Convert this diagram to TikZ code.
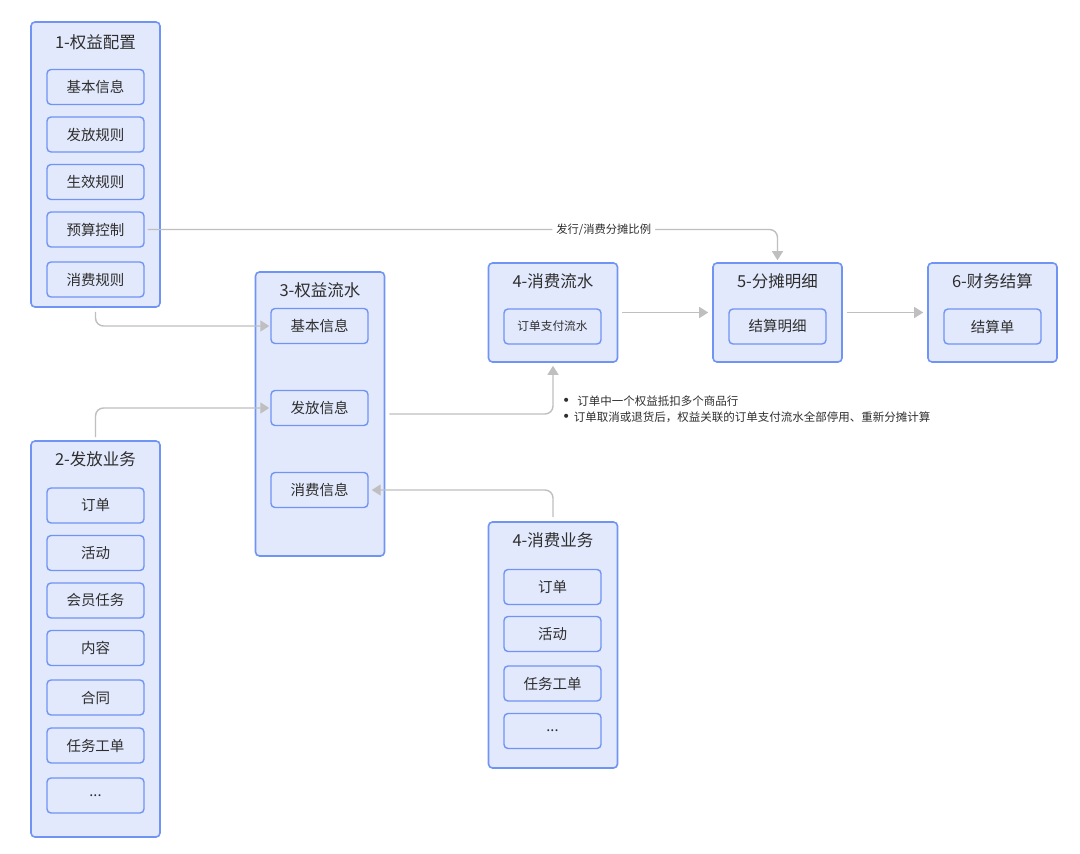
\documentclass[tikz,border=0pt]{standalone}
\usepackage{fontspec}
\setmainfont{Noto Sans CJK SC}
\newfontfamily\dotfont{DejaVu Sans}
\usetikzlibrary{arrows.meta}
\definecolor{boxblue}{HTML}{7094F4}
\definecolor{boxfill}{HTML}{E3E9FC}
\definecolor{linegray}{HTML}{BFBFBF}
\definecolor{txtgray}{HTML}{2E2E2E}

\begin{document}
\begin{tikzpicture}[
    x=1pt, y=-1pt,
    group/.style={rectangle, draw=boxblue, fill=boxfill, line width=1.6pt, rounded corners=4pt, minimum width=129pt},
    item/.style={rectangle, draw=boxblue, fill=boxfill, line width=1.4pt, rounded corners=4pt, minimum width=97pt, minimum height=35pt, font=\fontsize{14.5}{16}\selectfont, text=txtgray},
    grouptitle/.style={font=\fontsize{16.5}{18}\selectfont, text=txtgray},
    note/.style={font=\fontsize{11.5}{13}\selectfont, text=txtgray, anchor=west, inner sep=0pt},
    arrow/.style={draw=linegray, line width=1.4pt, rounded corners=8pt, -{Triangle[length=9pt, width=11pt]}}
]
    \useasboundingbox[fill=white] (0, 0) rectangle (1080, 854);

    % Groups
    \node[group, minimum height=285pt] (cfg) at (95.5, 164.5) {};
    \node[group, minimum height=396pt] (iss) at (95.5, 639) {};
    \node[group, minimum height=284pt] (flow) at (320, 414) {};
    \node[group, minimum height=99pt] (cons) at (553, 312.5) {};
    \node[group, minimum height=99pt] (alloc) at (777.5, 312.5) {};
    \node[group, minimum height=99pt] (fin) at (992.5, 312.5) {};
    \node[group, minimum height=246pt] (use) at (553, 645) {};

    % Titles
    \node[grouptitle] (tcfg) at (95.5, 42) {1-权益配置};
    \node[grouptitle] (tiss) at (95.5, 459) {2-发放业务};
    \node[grouptitle] (tflow) at (320, 290) {3-权益流水};
    \node[grouptitle] (tcons) at (553, 281) {4-消费流水};
    \node[grouptitle] (talloc) at (777.5, 281) {5-分摊明细};
    \node[grouptitle] (tfin) at (992.5, 281) {6-财务结算};
    \node[grouptitle] (tuse) at (553, 540) {4-消费业务};

    % 1-权益配置
    \node[item] (cfg1) at (95.5, 87) {基本信息};
    \node[item] (cfg2) at (95.5, 134.5) {发放规则};
    \node[item] (cfg3) at (95.5, 182) {生效规则};
    \node[item] (cfg4) at (95.5, 229.5) {预算控制};
    \node[item] (cfg5) at (95.5, 279.5) {消费规则};

    % 2-发放业务
    \node[item] (iss1) at (95.5, 505.5) {订单};
    \node[item] (iss2) at (95.5, 553) {活动};
    \node[item] (iss3) at (95.5, 600.5) {会员任务};
    \node[item] (iss4) at (95.5, 648) {内容};
    \node[item] (iss5) at (95.5, 697.5) {合同};
    \node[item] (iss6) at (95.5, 745.5) {任务工单};
    \node[item] (iss7) at (95.5, 795.5) {...};

    % 3-权益流水
    \node[item] (flow1) at (319.5, 326) {基本信息};
    \node[item] (flow2) at (319.5, 408) {发放信息};
    \node[item] (flow3) at (319.5, 490) {消费信息};

    % 4/5/6
    \node[item, font=\fontsize{11.7}{13}\selectfont] (cons1) at (552.5, 326.5) {订单支付流水};
    \node[item] (alloc1) at (777.5, 326.5) {结算明细};
    \node[item] (fin1) at (992.5, 326.5) {结算单};

    % 4-消费业务
    \node[item] (use1) at (552.5, 587) {订单};
    \node[item] (use2) at (552.5, 634) {活动};
    \node[item] (use3) at (552.5, 683.5) {任务工单};
    \node[item] (use4) at (552.5, 731) {...};

    % Connectors
    \draw[arrow] ([xshift=3pt]cfg4.east) -| ([yshift=2pt]alloc.north)
        node[pos=0.362, fill=white, inner sep=4pt, font=\fontsize{11.3}{13}\selectfont, text=txtgray] (ratio) {发行/消费分摊比例};
    \draw[arrow] ([yshift=-4pt]cfg.south) |- ([xshift=-1pt]flow1.west);
    \draw[arrow] ([yshift=3pt]iss.north) |- ([xshift=-1pt]flow2.west);
    \draw[arrow] ([xshift=4pt]flow.east) -| ([yshift=-3pt]cons.south);
    \draw[arrow] ([xshift=4pt]cons.east) -- ([xshift=-4pt]alloc.west);
    \draw[arrow] ([xshift=4pt]alloc.east) -- ([xshift=-4pt]fin.west);
    \draw[arrow] ([yshift=4pt]use.north) |- ([xshift=3pt]flow3.east);

    % Notes
    \node[note] (note1) at (562, 401) {{\dotfont\fontsize{14}{12}\selectfont •}\hspace{0.6em}订单中一个权益抵扣多个商品行};
    \node[note] (note2) at (562, 417) {{\dotfont\fontsize{14}{12}\selectfont •}\hspace{0.3em}订单取消或退货后，权益关联的订单支付流水全部停用、重新分摊计算};
\end{tikzpicture}
\end{document}
